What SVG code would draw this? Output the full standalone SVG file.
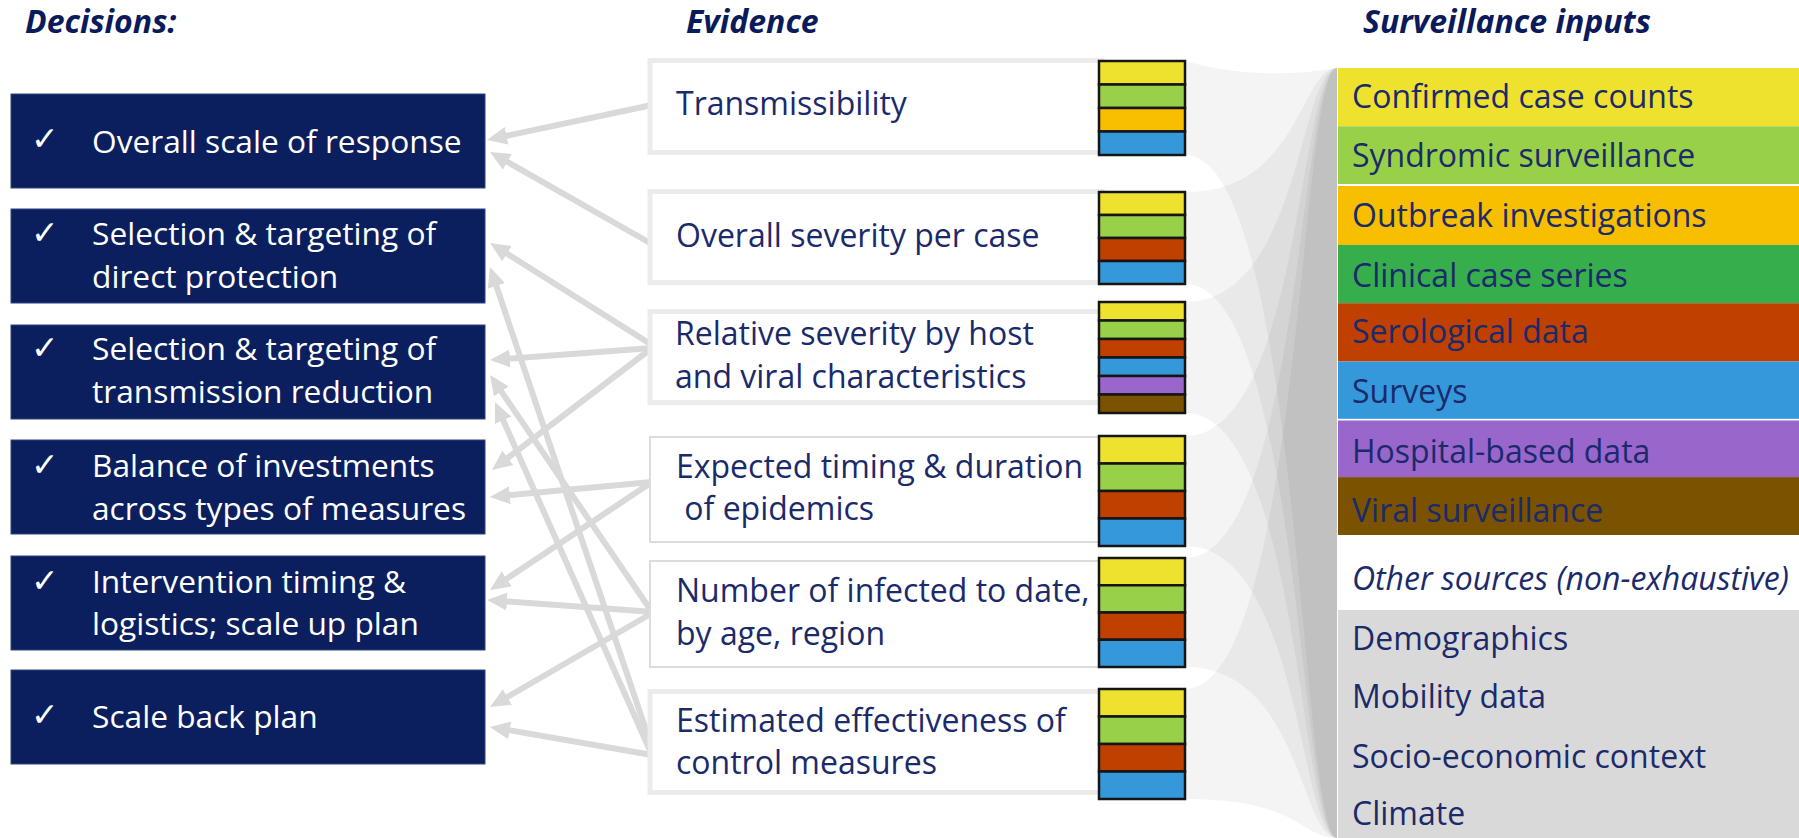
<svg xmlns="http://www.w3.org/2000/svg" width="1799" height="838" viewBox="0 0 1799 838">
<defs>
<style>
.hdr{font-family:"Open Sans","Liberation Sans",sans-serif;font-weight:700;font-style:italic;font-size:32px;fill:#0b1a5a}
.dtx{font-family:"Open Sans","Liberation Sans",sans-serif;font-size:31.7px;fill:#ffffff}
.chk{font-family:"DejaVu Sans",sans-serif;font-size:33px;fill:#ffffff}
.etx{font-family:"Open Sans","Liberation Sans",sans-serif;font-size:32px;fill:#1b2a6b}
.stx{font-family:"Open Sans","Liberation Sans",sans-serif;font-size:32px;fill:#1b2a6b}
.dbox{fill:#0b1f5e;stroke:#33447a;stroke-width:1}
.ebox{fill:#ffffff;stroke:#ebebeb;stroke-width:5}
.ebox2{fill:#ffffff;stroke:#dcdcdc;stroke-width:2}
.seg{stroke:#151515;stroke-width:2.5}
.y{fill:#efe22f}.g{fill:#98d048}.o{fill:#f8be00}.r{fill:#c04000}.b{fill:#3498db}.p{fill:#9966cc}.n{fill:#7a5200}.dg{fill:#36ae4c}
.rib{fill:#000000;fill-opacity:0.045}
.arr{stroke:#d9d9d9;stroke-width:6;fill:none;marker-end:url(#ah)}
</style>
<marker id="ah" viewBox="0 0 20 18" markerWidth="20" markerHeight="18" refX="8" refY="9" orient="auto" markerUnits="userSpaceOnUse">
<path d="M0,0 L20,9 L0,18 Z" fill="#d9d9d9"/>
</marker>
</defs>
<rect width="1799" height="838" fill="#ffffff"/>

<!-- headers -->
<text class="hdr" x="25" y="33">Decisions:</text>
<text class="hdr" x="686" y="33">Evidence</text>
<text class="hdr" x="1363" y="33">Surveillance inputs</text>

<!-- funnel ribbons -->
<g id="funnel">
<path class="rib" d="M1185 61 C1240 76 1290 76 1337 68 L1337 838 C1300 838 1300 155 1185 155 Z"/>
<path class="rib" d="M1185 192 C1300 192 1300 68 1337 68 L1337 838 C1300 838 1300 284 1185 284 Z"/>
<path class="rib" d="M1185 302 C1300 302 1300 68 1337 68 L1337 838 C1300 838 1300 413 1185 413 Z"/>
<path class="rib" d="M1185 436 C1300 436 1300 68 1337 68 L1337 838 C1300 838 1300 546 1185 546 Z"/>
<path class="rib" d="M1185 558 C1300 558 1300 68 1337 68 L1337 838 C1300 838 1300 667 1185 667 Z"/>
<path class="rib" d="M1185 689 C1300 689 1300 68 1337 68 L1337 838 C1300 838 1300 799 1185 799 Z"/>
</g>

<!-- connectors -->
<g id="connectors">
<line class="arr" x1="652" y1="105" x2="498.7" y2="137.5"/>
<line class="arr" x1="650" y1="243" x2="500.4" y2="157.9"/>
<line class="arr" x1="652" y1="345" x2="500.2" y2="249.4"/>
<line class="arr" x1="652" y1="748" x2="493.8" y2="278.4"/>
<line class="arr" x1="652" y1="348" x2="502.0" y2="359.1"/>
<line class="arr" x1="652" y1="612" x2="496.8" y2="384.9"/>
<line class="arr" x1="652" y1="755" x2="499.9" y2="413.0"/>
<line class="arr" x1="652" y1="348" x2="501.5" y2="462.7"/>
<line class="arr" x1="652" y1="482" x2="501.9" y2="495.9"/>
<line class="arr" x1="652" y1="482" x2="500.0" y2="583.3"/>
<line class="arr" x1="654" y1="612" x2="499.0" y2="600.9"/>
<line class="arr" x1="654" y1="612" x2="500.4" y2="701.0"/>
<line class="arr" x1="652" y1="755" x2="501.8" y2="729.0"/>
</g>

<!-- decision nodes -->
<g id="dec1"><rect class="dbox" x="11" y="94" width="474" height="94"/><text class="chk" x="31" y="150">✓</text><text class="dtx" x="92" y="153">Overall scale of response</text></g>
<g id="dec2"><rect class="dbox" x="11" y="209" width="474" height="94"/><text class="chk" x="31" y="244">✓</text><text class="dtx" x="92" y="245">Selection &amp; targeting of</text><text class="dtx" x="92" y="288">direct protection</text></g>
<g id="dec3"><rect class="dbox" x="11" y="325" width="474" height="94"/><text class="chk" x="31" y="359">✓</text><text class="dtx" x="92" y="360">Selection &amp; targeting of</text><text class="dtx" x="92" y="403">transmission reduction</text></g>
<g id="dec4"><rect class="dbox" x="11" y="440" width="474" height="94"/><text class="chk" x="31" y="476">✓</text><text class="dtx" x="92" y="477">Balance of investments</text><text class="dtx" x="92" y="520">across types of measures</text></g>
<g id="dec5"><rect class="dbox" x="11" y="556" width="474" height="94"/><text class="chk" x="31" y="592">✓</text><text class="dtx" x="92" y="593">Intervention timing &amp;</text><text class="dtx" x="92" y="635">logistics; scale up plan</text></g>
<g id="dec6"><rect class="dbox" x="11" y="670" width="474" height="94"/><text class="chk" x="31" y="726">✓</text><text class="dtx" x="92" y="728">Scale back plan</text></g>

<!-- evidence nodes -->
<g id="ev1"><rect class="ebox" x="650" y="60.5" width="452" height="92"/><text class="etx" x="676" y="115">Transmissibility</text>
<rect class="seg y" x="1099" y="61" width="86" height="23.5"/><rect class="seg g" x="1099" y="84.5" width="86" height="23.5"/><rect class="seg o" x="1099" y="108" width="86" height="23.5"/><rect class="seg b" x="1099" y="131.5" width="86" height="23.5"/></g>
<g id="ev2"><rect class="ebox" x="650" y="191.5" width="452" height="91"/><text class="etx" x="676" y="247">Overall severity per case</text>
<rect class="seg y" x="1099" y="192" width="86" height="23"/><rect class="seg g" x="1099" y="215" width="86" height="23"/><rect class="seg r" x="1099" y="238" width="86" height="23"/><rect class="seg b" x="1099" y="261" width="86" height="23"/></g>
<g id="ev3"><rect class="ebox" x="650" y="311.5" width="452" height="91"/><text class="etx" x="675" y="345">Relative severity by host</text><text class="etx" x="675" y="388">and viral characteristics</text>
<rect class="seg y" x="1099" y="302" width="86" height="18.5"/><rect class="seg g" x="1099" y="320.5" width="86" height="18.5"/><rect class="seg r" x="1099" y="339" width="86" height="18.5"/><rect class="seg b" x="1099" y="357.5" width="86" height="18.5"/><rect class="seg p" x="1099" y="376" width="86" height="18.5"/><rect class="seg n" x="1099" y="394.5" width="86" height="18.5"/></g>
<g id="ev4"><rect class="ebox2" x="650" y="437" width="452" height="105"/><text class="etx" x="676" y="478">Expected timing &amp; duration</text><text class="etx" x="676" y="520" xml:space="preserve"> of epidemics</text>
<rect class="seg y" x="1099" y="436" width="86" height="27.5"/><rect class="seg g" x="1099" y="463.5" width="86" height="27.5"/><rect class="seg r" x="1099" y="491" width="86" height="27.5"/><rect class="seg b" x="1099" y="518.5" width="86" height="27.5"/></g>
<g id="ev5"><rect class="ebox2" x="650" y="561" width="452" height="106"/><text class="etx" x="676" y="602">Number of infected to date,</text><text class="etx" x="676" y="645">by age, region</text>
<rect class="seg y" x="1099" y="558" width="86" height="27.25"/><rect class="seg g" x="1099" y="585.25" width="86" height="27.25"/><rect class="seg r" x="1099" y="612.5" width="86" height="27.25"/><rect class="seg b" x="1099" y="639.75" width="86" height="27.25"/></g>
<g id="ev6"><rect class="ebox" x="650" y="691.5" width="452" height="101"/><text class="etx" x="676" y="732">Estimated effectiveness of</text><text class="etx" x="676" y="774">control measures</text>
<rect class="seg y" x="1099" y="689" width="86" height="27.5"/><rect class="seg g" x="1099" y="716.5" width="86" height="27.5"/><rect class="seg r" x="1099" y="744" width="86" height="27.5"/><rect class="seg b" x="1099" y="771.5" width="86" height="27.5"/></g>

<!-- surveillance inputs -->
<g id="surv">
<rect class="y" x="1338" y="68" width="461" height="58.3"/>
<rect class="g" x="1338" y="126.3" width="461" height="57.7"/>
<rect class="o" x="1338" y="186" width="461" height="58.9"/>
<rect class="dg" x="1338" y="244.9" width="461" height="58.3"/>
<rect class="r" x="1338" y="303.2" width="461" height="58.3"/>
<rect class="b" x="1338" y="361.5" width="461" height="57.3"/>
<rect class="p" x="1338" y="420.5" width="461" height="56.6"/>
<rect class="n" x="1338" y="477.1" width="461" height="57.9"/>
<rect fill="#ffffff" x="1338" y="535" width="461" height="75"/>
<rect fill="#d9d9d9" x="1338" y="610" width="461" height="228"/>
<text class="stx" x="1352" y="108">Confirmed case counts</text>
<text class="stx" x="1352" y="167">Syndromic surveillance</text>
<text class="stx" x="1352" y="227">Outbreak investigations</text>
<text class="stx" x="1352" y="287">Clinical case series</text>
<text class="stx" x="1352" y="343">Serological data</text>
<text class="stx" x="1352" y="403">Surveys</text>
<text class="stx" x="1352" y="463">Hospital-based data</text>
<text class="stx" x="1352" y="522">Viral surveillance</text>
<text class="stx" x="1352" y="590" font-style="italic">Other sources (non-exhaustive)</text>
<text class="stx" x="1352" y="650">Demographics</text>
<text class="stx" x="1352" y="708">Mobility data</text>
<text class="stx" x="1352" y="768">Socio-economic context</text>
<text class="stx" x="1352" y="825">Climate</text>
</g>
</svg>
